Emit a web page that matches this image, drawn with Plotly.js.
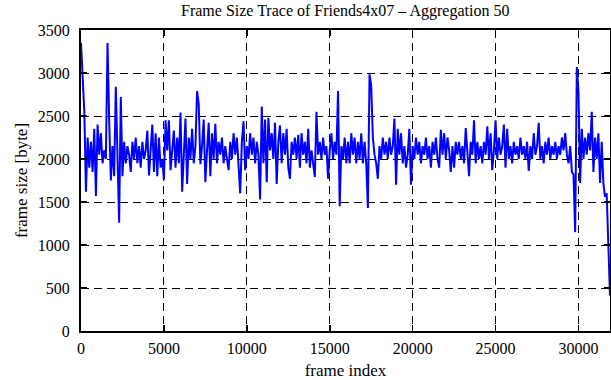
<!DOCTYPE html>
<html>
<head>
<meta charset="utf-8">
<script src="https://cdn.plot.ly/plotly-3.0.1.min.js"></script>
<style>html,body{margin:0;padding:0;background:#fff;}#chart{width:611px;height:380px;}</style>
</head>
<body>
<div id="chart"></div>
<script>
// Frame index of first sample and spacing between the samples
const firstFrame = 0;
const frameStep = 100;

// frame size [byte], one reading every 100 frames (aggregation 50 trace)
const frameSize = [
  3350, 2900, 2550, 1620, 2250, 1900, 2200, 1850, 2350, 1570,
  2400, 2050, 2300, 1950, 2100, 2000, 3350, 2450, 1750, 2150,
  1800, 2840, 2100, 1260, 2720, 1800, 2200, 1950, 2150, 2050,
  1850, 2200, 2000, 2250, 1950, 2150, 1900, 2200, 2000, 2100,
  2330, 1810, 2100, 2400, 1850, 2300, 1800, 2250, 1900, 2000,
  1760, 2450, 2100, 2450, 1870, 2100, 2330, 1900, 2250, 1950,
  2540, 1620, 2150, 2470, 1710, 2250, 2000, 2350, 1950, 2150,
  2790, 2640, 1940, 2150, 2460, 1730, 2100, 2420, 1800, 2300,
  2000, 2410, 1950, 2200, 2050, 2250, 1950, 2150, 2000, 1870,
  2200, 2000, 2300, 2050, 2250, 1950, 1600, 2200, 2440, 1870,
  2150, 2000, 2300, 2050, 2250, 1950, 2200, 2050, 1530, 2610,
  1950, 2460, 1730, 2480, 2100, 2300, 2000, 2420, 1710, 2200,
  2390, 1950, 2300, 2050, 2350, 1900, 1770, 2200, 2050, 2250,
  2000, 2280, 1900, 2300, 2050, 2200, 1950, 2350, 1900, 2100,
  1900, 1790, 2550, 2050, 2200, 2000, 2250, 2050, 2150, 1770,
  2100, 2300, 2000, 2200, 2050, 2790, 1450, 2150, 2000, 2250,
  1950, 2200, 1950, 2300, 2050, 2250, 1950, 2200, 2000, 2300,
  1950, 2200, 1950, 1430, 2985, 2850, 2250, 2050, 1950, 1770,
  2150, 2000, 2250, 2050, 2200, 2000, 2250, 2050, 2150, 2470,
  1700, 2350, 2050, 2300, 1950, 2150, 1900, 2050, 2350, 1700,
  2150, 2000, 2250, 2050, 2200, 1950, 2150, 2050, 2250, 2000,
  2150, 1900, 2200, 2050, 2250, 2000, 1900, 2340, 2050, 2300,
  2000, 2250, 2100, 1850, 2150, 1900, 2200, 2050, 2200, 2000,
  2150, 1950, 2360, 2050, 1800, 2200, 2050, 2450, 1950, 2200,
  2000, 2150, 1950, 2200, 2050, 2380, 2000, 2300, 1870, 2100,
  2450, 2000, 2250, 2050, 2150, 2400, 1900, 2350, 2000, 2150,
  1950, 2200, 2050, 2150, 2000, 2250, 2050, 2150, 2000, 2200,
  1860, 2150, 2000, 2300, 2050, 2150, 2420, 2000, 2150, 1950,
  2200, 2050, 2250, 2000, 2150, 2050, 2200, 2000, 2150, 2050,
  2250, 2100, 2300, 2050, 1950, 2150, 1850, 1820, 1150, 3070,
  2780, 1720, 2350, 2000, 2250, 2050, 2300, 2100, 2550, 1850,
  2250, 2000, 2300, 1720, 2200, 1720, 1560, 1600, 850, 410
];

const xTicks = [0, 5000, 10000, 15000, 20000, 25000, 30000];
const yTicks = [0, 500, 1000, 1500, 2000, 2500, 3000, 3500];

const font = "Liberation Serif, Times New Roman, serif";

const trace = {
  type: 'scatter',
  mode: 'lines',
  x0: firstFrame,
  dx: frameStep,
  y: frameSize,
  line: {color: '#0000ff', width: 2},
  hoverinfo: 'skip'
};

const axisCommon = {
  showline: true,
  linecolor: '#000',
  linewidth: 2,
  mirror: 'ticks',
  ticks: 'inside',
  ticklen: 6,
  tickwidth: 1.5,
  tickcolor: '#000',
  showgrid: true,
  gridcolor: '#000',
  gridwidth: 1,
  griddash: '8px,5px',
  zeroline: false,
  tickfont: {family: font, size: 16, color: '#000'}
};

const layout = {
  width: 611,
  height: 380,
  margin: {l: 81, r: 1, t: 30, b: 49},
  paper_bgcolor: '#fff',
  plot_bgcolor: '#fff',
  showlegend: false,
  title: {
    text: 'Frame Size Trace of Friends4x07 – Aggregation 50',
    font: {family: font, size: 16, color: '#000'},
    x: 0.565, xanchor: 'center', y: 0.972, yanchor: 'middle'
  },
  xaxis: Object.assign({}, axisCommon, {
    range: [0, 31900],
    tickvals: xTicks,
    ticktext: xTicks.map(String),
    ticklabelstandoff: 2,
    title: {text: 'frame index', font: {family: font, size: 17, color: '#000'}, standoff: 8}
  }),
  yaxis: Object.assign({}, axisCommon, {
    range: [0, 3500],
    tickvals: yTicks,
    ticktext: yTicks.map(String),
    ticklabelstandoff: 6,
    title: {text: 'frame size [byte]', font: {family: font, size: 17, color: '#000'}, standoff: 6}
  })
};

Plotly.newPlot('chart', [trace], layout, {displayModeBar: false, staticPlot: true});
</script>
</body>
</html>
